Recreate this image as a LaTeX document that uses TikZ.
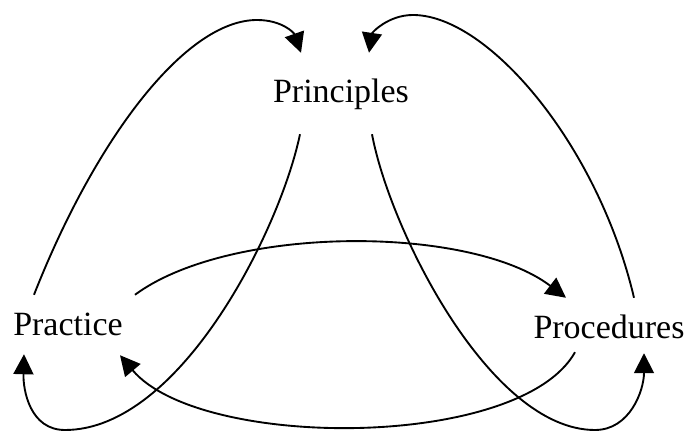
\documentclass[tikz,border=0pt]{standalone}
\usepackage{fontspec}
\setmainfont{Liberation Serif}
\usepackage{tikz}
\usetikzlibrary{arrows.meta}
\tikzset{
  lbl/.style={font=\fontsize{29}{34}\selectfont,inner sep=0pt,
              text height=0.66cm,text depth=0.24cm,anchor=base},
  flow/.style={-{Triangle[length=6mm,width=6mm]},line width=1.6pt,black}
}
\begin{document}
\begin{tikzpicture}[x=0.03cm,y=-0.03cm]
        \useasboundingbox (0,0) rectangle (688,431);
        \node[lbl] (prin) at (341,103) {Principles};
        \node[lbl] (prac) at (68,336)  {Practice};
        \node[lbl] (proc) at (609,339) {Procedures};
        % outer loops up to the top
        \draw[flow] ([shift={(-34,-19)}]prac.north) .. controls +(61,-155) and +(-72,0) .. (257,20)
              .. controls +(25,0) and +(-7,-20) .. ([shift={(-40,-28)}]prin.north);
        \draw[flow] ([shift={(25,-19)}]proc.north) .. controls +(-36,-153) and +(75,0) .. (413,15)
              .. controls +(-25,0) and +(3,-20) .. ([shift={(28,-28)}]prin.north);
        % inner loops down to the bottom
        \draw[flow] ([shift={(-41,23)}]prin.south) .. controls +(-20,96) and +(115,0) .. (65,430)
              .. controls +(-35,0) and +(-1,36) .. ([shift={(-44,10)}]prac.south);
        \draw[flow] ([shift={(31,23)}]prin.south) .. controls +(18,96) and +(-105,0) .. (595,430)
              .. controls +(35,0) and +(0,37) .. ([shift={(35,6)}]proc.south);
        % across the middle
        \draw[flow] ([shift={(67,-19)}]prac.north) .. controls +(95,-70) and +(-96,-73)
              .. ([shift={(-43,-19)}]proc.north);
        \draw[flow] ([shift={(-34,5)}]proc.south) .. controls +(-55,98) and +(80,95)
              .. ([shift={(52,11)}]prac.south);
\end{tikzpicture}
\end{document}
